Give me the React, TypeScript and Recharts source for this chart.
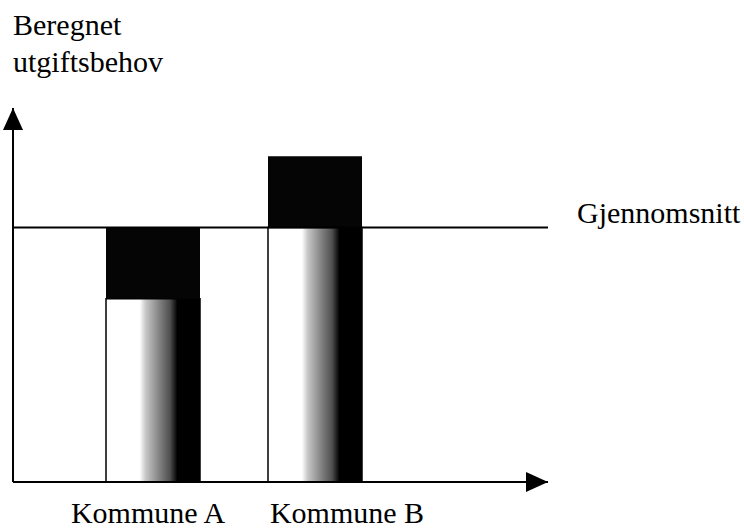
import React from 'react'
import {
  ComposedChart,
  Bar,
  XAxis,
  YAxis,
  ReferenceLine
} from 'recharts'

const kommuner = ['Kommune A', 'Kommune B']
const utgiftsbehov = [72, 128]
const gjennomsnitt = 100
const yMax = 147

// lower part: up to min(value, average), upper part: the deviation from the average
const data = kommuner.map((navn, i) => ({
  navn,
  grunn: Math.min(utgiftsbehov[i], gjennomsnitt),
  avvik: Math.abs(utgiftsbehov[i] - gjennomsnitt)
}))

const FONT = "'Liberation Serif', 'DejaVu Serif', Tinos, 'Times New Roman', serif"
const TICK_DX = [-5, 32]

function KommuneTick({ x, y, payload, index }: any) {
  return (
    <text
      x={x + TICK_DX[index]}
      y={y + 33}
      textAnchor="middle"
      fontSize={30}
      style={{ fontFamily: FONT }}
      fill="#000"
    >
      {payload.value}
    </text>
  )
}

function SnittLabel({ viewBox }: any) {
  return (
    <text
      x={viewBox.x + viewBox.width + 29}
      y={viewBox.y - 5}
      fontSize={30}
      style={{ fontFamily: FONT }}
      fill="#000"
    >
      Gjennomsnitt
    </text>
  )
}

export default function App() {
  return (
    <div style={{ position: 'absolute', left: 0, top: 0, width: 744, height: 529, background: '#fff' }}>
      <div
        style={{
          position: 'absolute',
          left: 13,
          top: 6,
          fontFamily: FONT,
          fontSize: 30,
          lineHeight: '37px',
          color: '#000'
        }}
      >
        Beregnet
        <br />
        utgiftsbehov
      </div>
      <ComposedChart
        width={744}
        height={529}
        data={data}
        margin={{ top: 108, right: 196, left: 0, bottom: 0 }}
      >
        <defs>
          <linearGradient id="skygge" x1="0" y1="0" x2="1" y2="0">
            <stop offset="0%" stopColor="#ffffff" />
            <stop offset="36%" stopColor="#ffffff" />
            <stop offset="42%" stopColor="#c8c8c8" />
            <stop offset="55%" stopColor="#8a8a8a" />
            <stop offset="68%" stopColor="#505050" />
            <stop offset="76%" stopColor="#000000" />
            <stop offset="100%" stopColor="#000000" />
          </linearGradient>
          <marker
            id="pil"
            viewBox="0 0 22 20"
            refX={22}
            refY={10}
            markerWidth={22}
            markerHeight={20}
            markerUnits="userSpaceOnUse"
            orient="auto-start-reverse"
          >
            <path d="M0,0 L22,10 L0,20 z" fill="#000" />
          </marker>
        </defs>
        <XAxis
          dataKey="navn"
          height={47}
          padding={{ left: 59, right: 152 }}
          tickLine={false}
          axisLine={{ stroke: '#000', strokeWidth: 2, markerEnd: 'url(#pil)' }}
          tick={<KommuneTick />}
          interval={0}
        />
        <YAxis
          type="number"
          domain={[0, yMax]}
          width={13}
          tick={false}
          tickLine={false}
          axisLine={{ stroke: '#000', strokeWidth: 2, markerStart: 'url(#pil)' }}
        />
        <Bar
          dataKey="grunn"
          stackId="a"
          barSize={94}
          fill="url(#skygge)"
          stroke="#000"
          strokeWidth={1.5}
          isAnimationActive={false}
        />
        <Bar
          dataKey="avvik"
          stackId="a"
          barSize={94}
          fill="#050505"
          isAnimationActive={false}
        />
        <ReferenceLine
          y={gjennomsnitt}
          stroke="#000"
          strokeWidth={2}
          label={<SnittLabel />}
        />
      </ComposedChart>
    </div>
  )
}
